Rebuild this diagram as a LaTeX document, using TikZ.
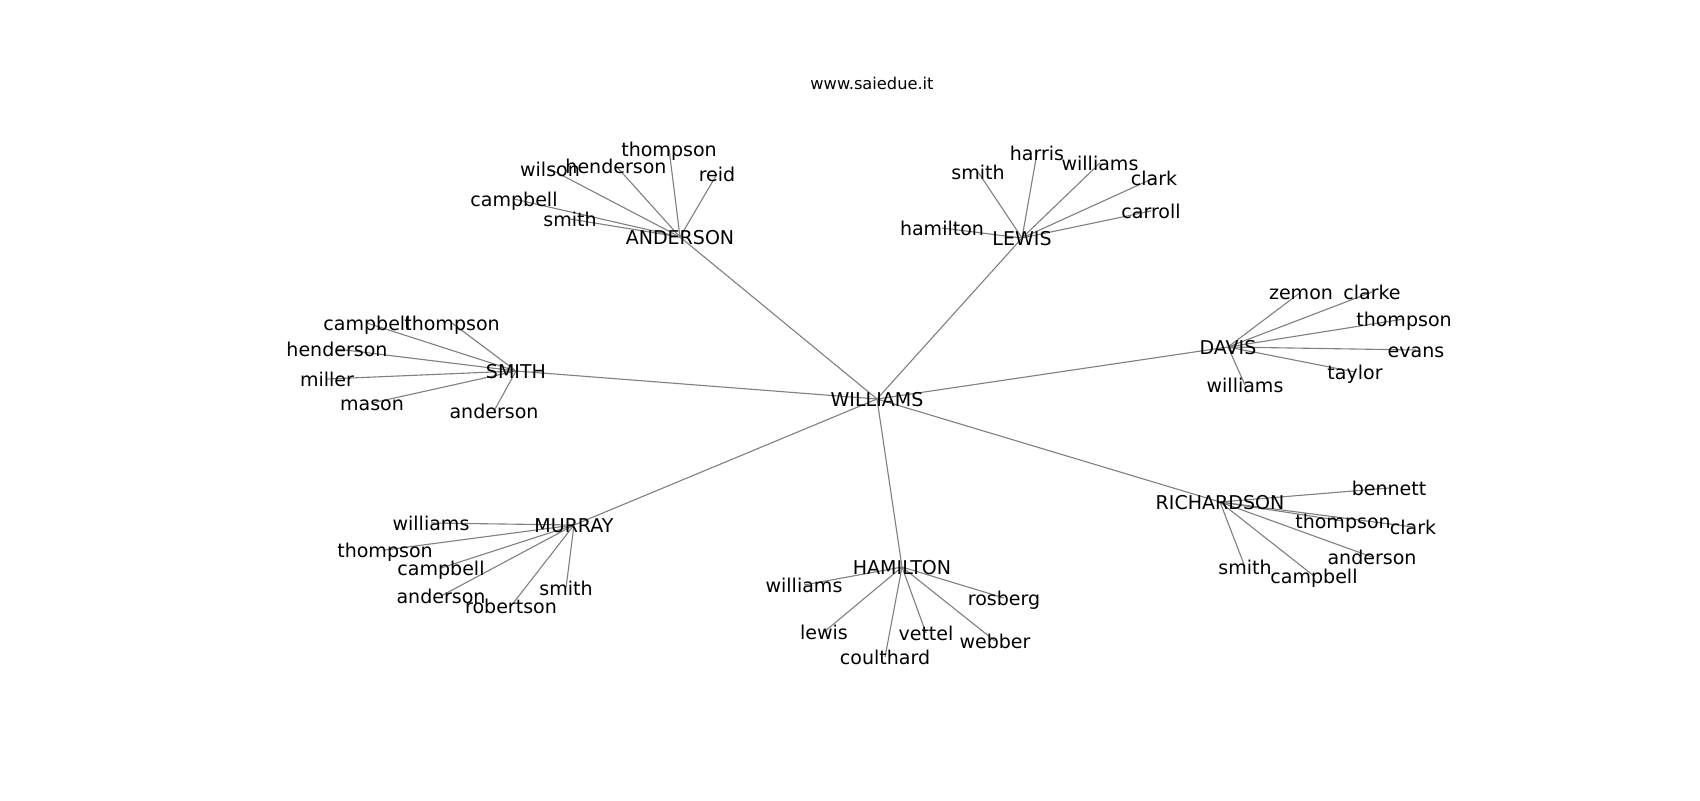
\documentclass[tikz,border=0pt]{standalone}
\usepackage{fontspec}
\setmainfont{DejaVu Sans}
\usetikzlibrary{backgrounds}

\begin{document}
\begin{tikzpicture}[x=0.72pt, y=-0.72pt,
  person/.style={inner sep=0pt, font=\fontsize{13.7}{16}\selectfont, text height=11.8pt, text depth=1.5pt},
  link/.style={draw={rgb,255:red,128;green,128;blue,128}, line width=0.8pt}]
  \useasboundingbox (0,0) rectangle (1700,800);
  \node (title) at (872,83) {\fontsize{11.7}{14}\selectfont www.saiedue.it};
  \node[person] (W) at (877,399) {WILLIAMS};
  \node[person] (A) at (680,237) {ANDERSON};
  \node[person] (L) at (1022,238) {LEWIS};
  \node[person] (S) at (516,371) {SMITH};
  \node[person] (D) at (1228,347) {DAVIS};
  \node[person] (M) at (574,525) {MURRAY};
  \node[person] (H) at (902,567) {HAMILTON};
  \node[person] (R) at (1220,502) {RICHARDSON};
  \node[person] (a1) at (669,149) {thompson};
  \node[person] (a2) at (616,166) {henderson};
  \node[person] (a3) at (550,169) {wilson};
  \node[person] (a4) at (717,174) {reid};
  \node[person] (a5) at (514,199) {campbell};
  \node[person] (a6) at (570,219) {smith};
  \node[person] (l1) at (978,172) {smith};
  \node[person] (l2) at (1037,153) {harris};
  \node[person] (l3) at (1100,163) {williams};
  \node[person] (l4) at (1154,178) {clark};
  \node[person] (l5) at (1151,211) {carroll};
  \node[person] (l6) at (942,228) {hamilton};
  \node[person] (s1) at (367,323) {campbell};
  \node[person] (s2) at (452,323) {thompson};
  \node[person] (s3) at (337,349) {henderson};
  \node[person] (s4) at (327,379) {miller};
  \node[person] (s5) at (372,403) {mason};
  \node[person] (s6) at (494,411) {anderson};
  \node[person] (d1) at (1301,292) {zemon};
  \node[person] (d2) at (1372,292) {clarke};
  \node[person] (d3) at (1404,319) {thompson};
  \node[person] (d4) at (1416,350) {evans};
  \node[person] (d5) at (1355,372) {taylor};
  \node[person] (d6) at (1245,385) {williams};
  \node[person] (m1) at (431,523) {williams};
  \node[person] (m2) at (385,550) {thompson};
  \node[person] (m3) at (441,568) {campbell};
  \node[person] (m4) at (441,596) {anderson};
  \node[person] (m5) at (511,606) {robertson};
  \node[person] (m6) at (566,588) {smith};
  \node[person] (h1) at (804,585) {williams};
  \node[person] (h2) at (1004,598) {rosberg};
  \node[person] (h3) at (824,632) {lewis};
  \node[person] (h4) at (926,633) {vettel};
  \node[person] (h5) at (995,641) {webber};
  \node[person] (h6) at (885,657) {coulthard};
  \node[person] (r1) at (1389,488) {bennett};
  \node[person] (r2) at (1343,521) {thompson};
  \node[person] (r3) at (1413,527) {clark};
  \node[person] (r4) at (1372,557) {anderson};
  \node[person] (r5) at (1245,567) {smith};
  \node[person] (r6) at (1314,576) {campbell};
  \begin{scope}[on background layer]
  \draw[link] (W.center)--(A.center);
  \draw[link] (W.center)--(L.center);
  \draw[link] (W.center)--(S.center);
  \draw[link] (W.center)--(D.center);
  \draw[link] (W.center)--(M.center);
  \draw[link] (W.center)--(H.center);
  \draw[link] (W.center)--(R.center);
  \draw[link] (A.center)--(a1.center);
  \draw[link] (A.center)--(a2.center);
  \draw[link] (A.center)--(a3.center);
  \draw[link] (A.center)--(a4.center);
  \draw[link] (A.center)--(a5.center);
  \draw[link] (A.center)--(a6.center);
  \draw[link] (L.center)--(l1.center);
  \draw[link] (L.center)--(l2.center);
  \draw[link] (L.center)--(l3.center);
  \draw[link] (L.center)--(l4.center);
  \draw[link] (L.center)--(l5.center);
  \draw[link] (L.center)--(l6.center);
  \draw[link] (S.center)--(s1.center);
  \draw[link] (S.center)--(s2.center);
  \draw[link] (S.center)--(s3.center);
  \draw[link] (S.center)--(s4.center);
  \draw[link] (S.center)--(s5.center);
  \draw[link] (S.center)--(s6.center);
  \draw[link] (D.center)--(d1.center);
  \draw[link] (D.center)--(d2.center);
  \draw[link] (D.center)--(d3.center);
  \draw[link] (D.center)--(d4.center);
  \draw[link] (D.center)--(d5.center);
  \draw[link] (D.center)--(d6.center);
  \draw[link] (M.center)--(m1.center);
  \draw[link] (M.center)--(m2.center);
  \draw[link] (M.center)--(m3.center);
  \draw[link] (M.center)--(m4.center);
  \draw[link] (M.center)--(m5.center);
  \draw[link] (M.center)--(m6.center);
  \draw[link] (H.center)--(h1.center);
  \draw[link] (H.center)--(h2.center);
  \draw[link] (H.center)--(h3.center);
  \draw[link] (H.center)--(h4.center);
  \draw[link] (H.center)--(h5.center);
  \draw[link] (H.center)--(h6.center);
  \draw[link] (R.center)--(r1.center);
  \draw[link] (R.center)--(r2.center);
  \draw[link] (R.center)--(r3.center);
  \draw[link] (R.center)--(r4.center);
  \draw[link] (R.center)--(r5.center);
  \draw[link] (R.center)--(r6.center);
  \end{scope}
\end{tikzpicture}
\end{document}
